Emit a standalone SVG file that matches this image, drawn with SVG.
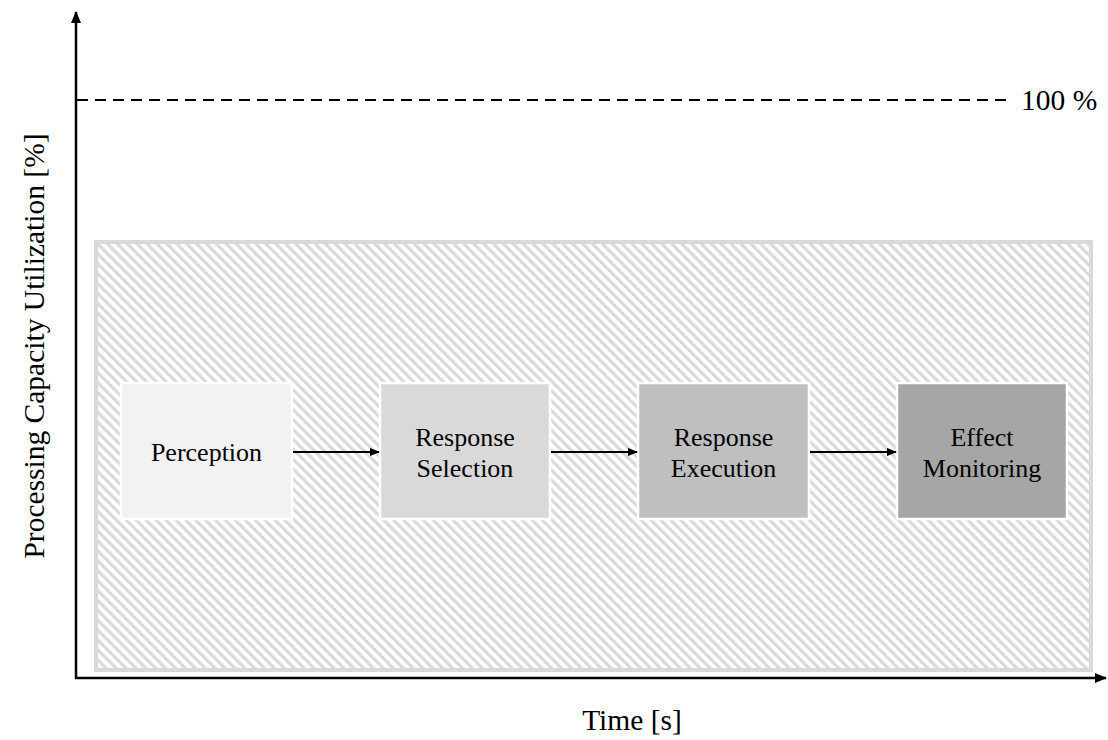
<svg xmlns="http://www.w3.org/2000/svg" width="1108" height="740" viewBox="0 0 1108 740">
<style>
.t{font-family:"Liberation Serif","Times New Roman",serif;fill:#000}
.lbl{font-size:26px;text-anchor:middle}
.ax{font-size:29.5px}
.box{stroke:#fff;stroke-width:2.5}
.conn{stroke:#000;stroke-width:2;fill:none}
</style>
<defs>
<pattern id="hatch" patternUnits="userSpaceOnUse" width="7" height="7" patternTransform="rotate(-45)">
<rect width="7" height="7" fill="#fff"/>
<rect x="0" y="0" width="3.2" height="7" fill="#d9d9d9"/>
</pattern>
<marker id="ah" markerWidth="10" markerHeight="8" refX="9" refY="4" orient="auto" markerUnits="userSpaceOnUse">
<path d="M0,0 L10,4 L0,8 Z" fill="#000"/>
</marker>
<marker id="axh" markerWidth="12" markerHeight="10" refX="11" refY="5" orient="auto" markerUnits="userSpaceOnUse">
<path d="M0,0 L12,5 L0,10 Z" fill="#000"/>
</marker>
</defs>
<rect width="1108" height="740" fill="#fff"/>
<g id="capacity-area">
<rect x="96" y="242" width="995" height="428" fill="url(#hatch)" stroke="#d9d9d9" stroke-width="4"/>
</g>
<g id="axes">
<line x1="76" y1="679" x2="76" y2="12" stroke="#000" stroke-width="2.5" marker-end="url(#axh)"/>
<line x1="75" y1="678" x2="1106" y2="678" stroke="#000" stroke-width="2.5" marker-end="url(#axh)"/>
<line x1="77" y1="100" x2="1006" y2="100" stroke="#000" stroke-width="2" stroke-dasharray="11,7"/>
<text class="t ax" x="1021" y="110">100 %</text>
<text class="t ax" x="632" y="730" text-anchor="middle">Time [s]</text>
<text class="t ax" transform="translate(44,346) rotate(-90)" text-anchor="middle">Processing Capacity Utilization [%]</text>
</g>
<g id="perception">
<rect class="box" x="121" y="383" width="171" height="136" fill="#f2f2f2"/>
<text class="t lbl" x="206.5" y="461">Perception</text>
</g>
<g id="response-selection">
<rect class="box" x="380" y="383" width="170" height="136" fill="#d9d9d9"/>
<text class="t lbl" x="465" y="446">Response</text>
<text class="t lbl" x="465" y="477">Selection</text>
</g>
<g id="response-execution">
<rect class="box" x="638" y="383" width="171" height="136" fill="#bfbfbf"/>
<text class="t lbl" x="723.5" y="446">Response</text>
<text class="t lbl" x="723.5" y="477">Execution</text>
</g>
<g id="effect-monitoring">
<rect class="box" x="897" y="383" width="170" height="136" fill="#a6a6a6"/>
<text class="t lbl" x="982" y="446">Effect</text>
<text class="t lbl" x="982" y="477">Monitoring</text>
</g>
<g id="connectors">
<line class="conn" x1="293" y1="452" x2="379" y2="452" marker-end="url(#ah)"/>
<line class="conn" x1="551" y1="452" x2="637" y2="452" marker-end="url(#ah)"/>
<line class="conn" x1="810" y1="452" x2="896" y2="452" marker-end="url(#ah)"/>
</g>
</svg>
